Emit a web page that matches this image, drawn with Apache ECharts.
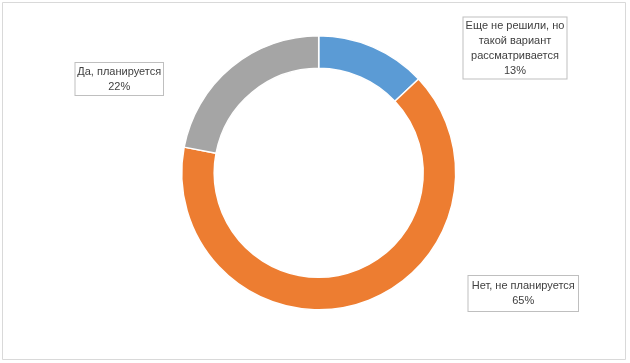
<!DOCTYPE html>
<html>
<head>
<meta charset="utf-8">
<script src="https://cdn.jsdelivr.net/npm/echarts@6/dist/echarts.min.js"></script>
<style>html,body{margin:0;padding:0;background:#fff}#c{width:630px;height:363px}</style>
</head>
<body>
<div id="c"></div>
<script>
// Data
var categories = ['Еще не решили, но\nтакой вариант\nрассматривается', 'Нет, не планируется', 'Да, планируется'];
var values = [13, 65, 22];
var colors = ['#5b9bd5', '#ed7d31', '#a5a5a5'];

// Label box placement (left, top, width) and padding per slice
var labelBoxes = [
  {left: 462.5, top: 17.5, w: 105, pad: [1, 3, 0, 3]},
  {left: 467.5, top: 276, w: 111.5, pad: [2, 3, 3, 3]},
  {left: 74.5, top: 63, w: 89.5, pad: [1, 3, 1, 3]}
];

var chart = echarts.init(document.getElementById('c'), null, {renderer: 'canvas'});
var font = '"Liberation Sans", Arial, sans-serif';

var data = categories.map(function (name, i) {
  var b = labelBoxes[i];
  return {
    name: name,
    value: values[i],
    itemStyle: {color: colors[i]},
    label: {
      width: b.w - b.pad[1] - b.pad[3] - 2,
      padding: b.pad
    }
  };
});

chart.setOption({
  animation: false,
  backgroundColor: '#ffffff',
  graphic: [{
    type: 'rect',
    shape: {x: 2.5, y: 2.5, width: 623, height: 357},
    style: {fill: 'none', stroke: '#d9d9d9', lineWidth: 1},
    silent: true,
    z: 0
  }],
  series: [{
    type: 'pie',
    center: [318.7, 172.8],
    radius: [104.5, 137],
    startAngle: 90,
    clockwise: true,
    avoidLabelOverlap: false,
    silent: true,
    itemStyle: {borderColor: '#ffffff', borderWidth: 1.5},
    label: {
      show: true,
      position: 'outside',
      formatter: function (p) { return p.name + '\n' + Math.round(p.percent) + '%'; },
      color: '#404040',
      fontFamily: font,
      fontSize: 11,
      lineHeight: 15,
      align: 'center',
      overflow: 'none',
      backgroundColor: '#ffffff',
      borderColor: '#bfbfbf',
      borderWidth: 1
    },
    labelLine: {show: false},
    labelLayout: function (params) {
      var b = labelBoxes[params.dataIndex];
      return {x: b.left + b.w / 2, y: b.top, align: 'center', verticalAlign: 'top'};
    },
    data: data
  }]
});
</script>
</body>
</html>
